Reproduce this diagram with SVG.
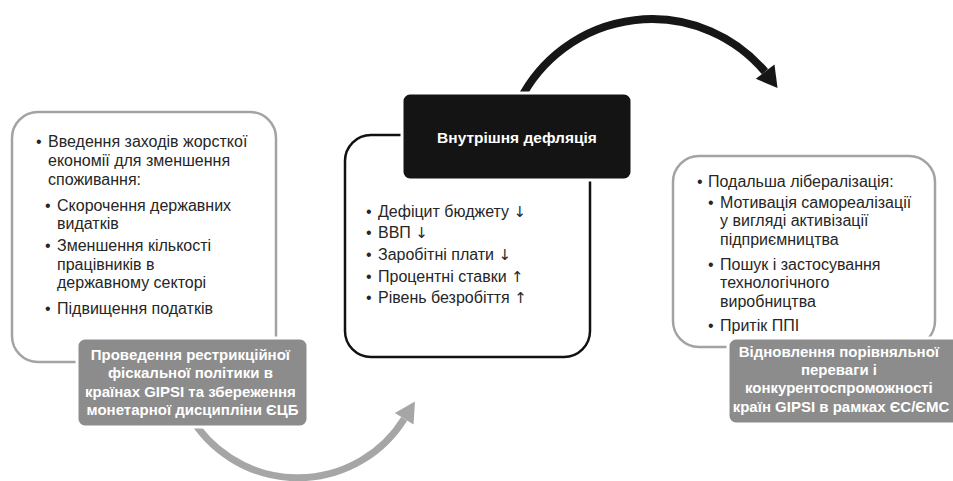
<svg xmlns="http://www.w3.org/2000/svg" width="953" height="481" viewBox="0 0 953 481">
<defs>
<style>
.box{fill:#fff;stroke:#a3a3a3;stroke-width:2.5}
.boxk{fill:#fff;stroke:#111;stroke-width:2.5}
.lbl{fill:#8c8c8c;stroke:#fff;stroke-width:3}
.ttl{fill:#141414;stroke:#fff;stroke-width:3}
.t{font-family:"Liberation Sans",Arial,sans-serif;font-size:16px;fill:#262626}
.ar{font-family:"DejaVu Sans",sans-serif;font-size:15px}
.b{font-family:"Liberation Sans",Arial,sans-serif;font-size:15px;font-weight:bold;fill:#fff;text-anchor:middle}
</style>
</defs>
<g id="connectors">
<path d="M 189.4 415.1 A 125.3 125.3 0 0 0 404.2 418.8" fill="none" stroke="#a6a6a6" stroke-width="7"/>
<polygon points="415,401.5 413.5,424.6 394.9,413" fill="#a6a6a6"/>
<path d="M 520 100 A 148 148 0 0 1 765 71.7" fill="none" stroke="#161616" stroke-width="8"/>
<polygon points="777.5,88 774.5,64.5 755.8,78.8" fill="#161616"/>
</g>
<g id="left">
<rect class="box" x="12" y="112" width="264" height="250" rx="26"/>
<text class="t"><tspan x="36" y="147">•</tspan><tspan x="48" y="147">Введення заходів жорсткої</tspan>
<tspan x="48" y="166">економії для зменшення</tspan>
<tspan x="48" y="185">споживання:</tspan>
<tspan x="45" y="211">•</tspan><tspan x="57" y="211">Скорочення державних</tspan>
<tspan x="57" y="229">видатків</tspan>
<tspan x="45" y="251">•</tspan><tspan x="57" y="251">Зменшення кількості</tspan>
<tspan x="57" y="270">працівників в</tspan>
<tspan x="57" y="288">державному секторі</tspan>
<tspan x="45" y="314">•</tspan><tspan x="57" y="314">Підвищення податків</tspan></text>
</g>
<g id="left-label">
<rect class="lbl" x="77" y="338" width="231" height="89" rx="8"/>
<text class="b"><tspan x="192.5" y="360">Проведення рестрикційної</tspan>
<tspan x="192.5" y="378">фіскальної політики в</tspan>
<tspan x="192.5" y="397">країнах GIPSI та збереження</tspan>
<tspan x="192.5" y="415">монетарної дисципліни ЄЦБ</tspan></text>
</g>
<g id="middle">
<rect class="boxk" x="345" y="135" width="245" height="222" rx="26"/>
<text class="t"><tspan x="366" y="217">•</tspan><tspan x="378" y="217">Дефіцит бюджету <tspan class="ar">↓</tspan></tspan>
<tspan x="366" y="238">•</tspan><tspan x="378" y="238">ВВП <tspan class="ar">↓</tspan></tspan>
<tspan x="366" y="260">•</tspan><tspan x="378" y="260">Заробітні плати <tspan class="ar">↓</tspan></tspan>
<tspan x="366" y="282">•</tspan><tspan x="378" y="282">Процентні ставки <tspan class="ar">↑</tspan></tspan>
<tspan x="366" y="303">•</tspan><tspan x="378" y="303">Рівень безробіття <tspan class="ar">↑</tspan></tspan></text>
</g>
<g id="title">
<rect class="ttl" x="402" y="93" width="230" height="87" rx="8"/>
<text class="b" x="517" y="143" style="font-size:15.5px">Внутрішня дефляція</text>
</g>
<g id="right">
<rect class="box" x="673" y="156" width="262" height="191" rx="26"/>
<text class="t"><tspan x="697" y="187">•</tspan><tspan x="708" y="187">Подальша лібералізація:</tspan>
<tspan x="708" y="208">•</tspan><tspan x="720" y="208">Мотивація самореалізації</tspan>
<tspan x="720" y="226">у вигляді активізації</tspan>
<tspan x="720" y="245">підприємництва</tspan>
<tspan x="708" y="270">•</tspan><tspan x="720" y="270">Пошук і застосування</tspan>
<tspan x="720" y="288">технологічного</tspan>
<tspan x="720" y="307">виробництва</tspan>
<tspan x="708" y="331">•</tspan><tspan x="720" y="331">Притік ППІ</tspan></text>
</g>
<g id="right-label">
<rect class="lbl" x="728" y="338" width="236" height="86" rx="8"/>
<text class="b"><tspan x="841" y="357">Відновлення порівняльної</tspan>
<tspan x="841" y="375">переваги і</tspan>
<tspan x="841" y="393">конкурентоспроможності</tspan>
<tspan x="841" y="412">країн GIPSI в рамках ЄС/ЄМС</tspan></text>
</g>
</svg>
